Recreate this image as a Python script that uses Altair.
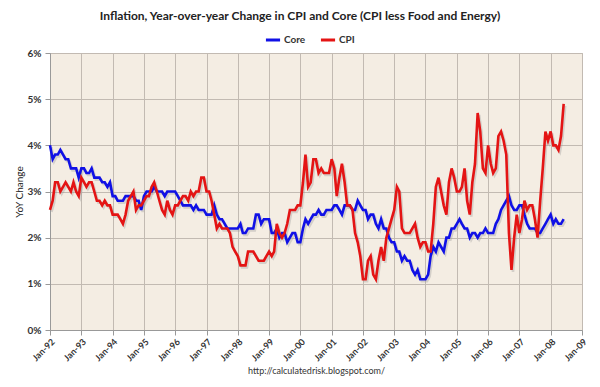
import altair as alt
import pandas as pd

# Monthly YoY change (%), Jan-1992 .. Jun-2008
core = [
    4.0, 3.7, 3.8, 3.8, 3.9, 3.8, 3.7, 3.7, 3.5, 3.5, 3.5, 3.3,   # 1992
    3.5, 3.5, 3.4, 3.4, 3.5, 3.3, 3.3, 3.3, 3.2, 3.2, 3.1, 3.2,   # 1993
    2.9, 2.9, 2.8, 2.8, 2.8, 2.9, 2.9, 2.9, 2.9, 2.8, 2.8, 2.6,   # 1994
    2.9, 3.0, 3.0, 3.0, 3.1, 3.0, 3.0, 3.0, 2.9, 3.0, 3.0, 3.0,   # 1995
    3.0, 2.9, 2.8, 2.7, 2.7, 2.7, 2.7, 2.6, 2.7, 2.6, 2.6, 2.6,   # 1996
    2.5, 2.5, 2.5, 2.7, 2.5, 2.4, 2.4, 2.3, 2.2, 2.2, 2.2, 2.2,   # 1997
    2.2, 2.3, 2.1, 2.1, 2.2, 2.2, 2.2, 2.5, 2.5, 2.3, 2.4, 2.4,   # 1998
    2.4, 2.1, 2.1, 2.2, 2.0, 2.1, 2.1, 1.9, 2.0, 2.1, 2.1, 1.9,   # 1999
    1.9, 2.2, 2.4, 2.3, 2.4, 2.5, 2.5, 2.6, 2.5, 2.5, 2.6, 2.6,   # 2000
    2.6, 2.7, 2.7, 2.6, 2.5, 2.7, 2.7, 2.7, 2.6, 2.6, 2.8, 2.7,   # 2001
    2.6, 2.6, 2.4, 2.5, 2.5, 2.3, 2.2, 2.4, 2.2, 2.2, 2.0, 1.9,   # 2002
    1.9, 1.7, 1.7, 1.5, 1.6, 1.5, 1.5, 1.3, 1.2, 1.3, 1.1, 1.1,   # 2003
    1.1, 1.2, 1.6, 1.8, 1.7, 1.9, 1.8, 1.7, 2.0, 2.0, 2.2, 2.2,   # 2004
    2.3, 2.4, 2.3, 2.2, 2.2, 2.0, 2.1, 2.1, 2.0, 2.1, 2.1, 2.2,   # 2005
    2.1, 2.1, 2.1, 2.3, 2.4, 2.6, 2.7, 2.8, 2.9, 2.7, 2.6, 2.6,   # 2006
    2.7, 2.7, 2.5, 2.3, 2.2, 2.2, 2.2, 2.1, 2.1, 2.2, 2.3, 2.4,   # 2007
    2.5, 2.3, 2.4, 2.3, 2.3, 2.4,                                 # 2008
]
cpi = [
    2.6, 2.8, 3.2, 3.2, 3.0, 3.1, 3.2, 3.1, 3.0, 3.2, 3.0, 2.9,   # 1992
    3.3, 3.2, 3.1, 3.2, 3.2, 3.0, 2.8, 2.8, 2.7, 2.8, 2.7, 2.7,   # 1993
    2.5, 2.5, 2.5, 2.4, 2.3, 2.5, 2.8, 2.9, 3.0, 2.6, 2.7, 2.7,   # 1994
    2.8, 2.9, 2.9, 3.1, 3.2, 3.0, 2.8, 2.6, 2.5, 2.8, 2.6, 2.5,   # 1995
    2.7, 2.7, 2.8, 2.9, 2.9, 2.8, 3.0, 2.9, 3.0, 3.0, 3.3, 3.3,   # 1996
    3.0, 3.0, 2.8, 2.5, 2.2, 2.3, 2.2, 2.2, 2.2, 2.1, 1.8, 1.7,   # 1997
    1.6, 1.4, 1.4, 1.4, 1.7, 1.7, 1.7, 1.6, 1.5, 1.5, 1.5, 1.6,   # 1998
    1.7, 1.6, 1.7, 2.3, 2.1, 2.0, 2.1, 2.3, 2.6, 2.6, 2.6, 2.7,   # 1999
    2.7, 3.2, 3.8, 3.1, 3.2, 3.7, 3.7, 3.4, 3.5, 3.4, 3.4, 3.4,   # 2000
    3.7, 3.5, 2.9, 3.3, 3.6, 3.2, 2.7, 2.7, 2.6, 2.1, 1.9, 1.6,   # 2001
    1.1, 1.1, 1.5, 1.6, 1.2, 1.1, 1.5, 1.8, 1.5, 2.0, 2.2, 2.4,   # 2002
    2.6, 3.1, 3.0, 2.2, 2.1, 2.1, 2.1, 2.2, 2.3, 2.0, 1.8, 1.9,   # 2003
    1.9, 1.7, 1.7, 2.3, 3.1, 3.3, 3.0, 2.7, 2.5, 3.2, 3.5, 3.3,   # 2004
    3.0, 3.0, 3.1, 3.5, 2.8, 2.5, 3.2, 3.6, 4.7, 4.3, 3.5, 3.4,   # 2005
    4.0, 3.6, 3.4, 3.5, 4.2, 4.3, 4.1, 3.8, 2.1, 1.3, 2.0, 2.5,   # 2006
    2.1, 2.4, 2.8, 2.6, 2.7, 2.7, 2.4, 2.0, 2.8, 3.5, 4.3, 4.1,   # 2007
    4.3, 4.0, 4.0, 3.9, 4.2, 4.9,                                 # 2008
]
series_names = ["Core", "CPI"]
series_colors = ["#1010e6", "#e41414"]
y_ticks = [0, 1, 2, 3, 4, 5, 6]
tick_years = list(range(1992, 2010))

months = list(pd.date_range("1992-01-01", periods=len(core), freq="MS"))
df = pd.DataFrame({
    "date": months + months,
    "value": core + cpi,
    "series": ["Core"] * len(core) + ["CPI"] * len(cpi),
    "order": [0] * len(core) + [1] * len(cpi),
})

FONT = "Lato"

x_enc = alt.X(
    "date:T",
    scale=alt.Scale(domain=[alt.DateTime(year=1992, month=1, date=1),
                            alt.DateTime(year=2009, month=1, date=1)]),
    axis=alt.Axis(
        values=[alt.DateTime(year=y, month=1, date=1) for y in tick_years],
        format="%b-%y", labelAngle=-45, labelAlign="right", labelBaseline="top",
        labelFontSize=9, labelFontWeight="bold", labelColor="#333333",
        labelFont=FONT, labelPadding=2,
        title="http://calculatedrisk.blogspot.com/", titleFontSize=9,
        titleFontWeight="normal", titleFont=FONT, titleColor="#333333",
        titlePadding=4,
    ),
)
y_enc = alt.Y(
    "value:Q",
    scale=alt.Scale(domain=[0, 6], nice=False),
    axis=alt.Axis(
        values=y_ticks, labelExpr="datum.value + '%'",
        labelFontSize=10, labelFontWeight="bold", labelColor="#333333",
        labelFont=FONT, labelPadding=4,
        title="YoY Change", titleFontSize=10, titleFontWeight="normal",
        titleFont=FONT, titleColor="#222222", titlePadding=3,
    ),
)

shadow = alt.Chart(df).mark_line(
    strokeWidth=2.6, color="#999999", opacity=0.35, xOffset=1.5, yOffset=2
).encode(x=x_enc, y=y_enc, detail="series:N", order="order:Q")

lines = alt.Chart(df).mark_line(strokeWidth=2.6).encode(
    x=x_enc,
    y=y_enc,
    color=alt.Color(
        "series:N",
        scale=alt.Scale(domain=series_names, range=series_colors),
        legend=alt.Legend(
            orient="none", legendX=214, legendY=-22, direction="horizontal",
            title=None, symbolType="stroke", symbolSize=200, symbolStrokeWidth=3,
            labelFontSize=10, labelFontWeight="bold", labelFont=FONT,
            labelColor="#333333", columnPadding=8, labelOffset=2,
        ),
    ),
    order="order:Q",
)

chart = alt.layer(shadow, lines).properties(
    width=532,
    height=277,
    autosize="none",
    padding={"left": 42, "top": 45, "right": 10, "bottom": 49},
    background="white",
    title=alt.TitleParams(
        "Inflation, Year-over-year Change in CPI and Core (CPI less Food and Energy)",
        fontSize=12, fontWeight="bold", font=FONT, color="#222222",
        anchor="middle", offset=8, dx=-16,
    ),
).configure_view(
    fill="#f4ede3", stroke="#b8b0a8", strokeWidth=1,
).configure_axis(
    gridColor="#c2bab2", gridWidth=1, domainColor="#999999",
    tickColor="#999999", tickSize=5,
)

chart.save("out.html", embed_options={"renderer": "svg", "actions": False})
